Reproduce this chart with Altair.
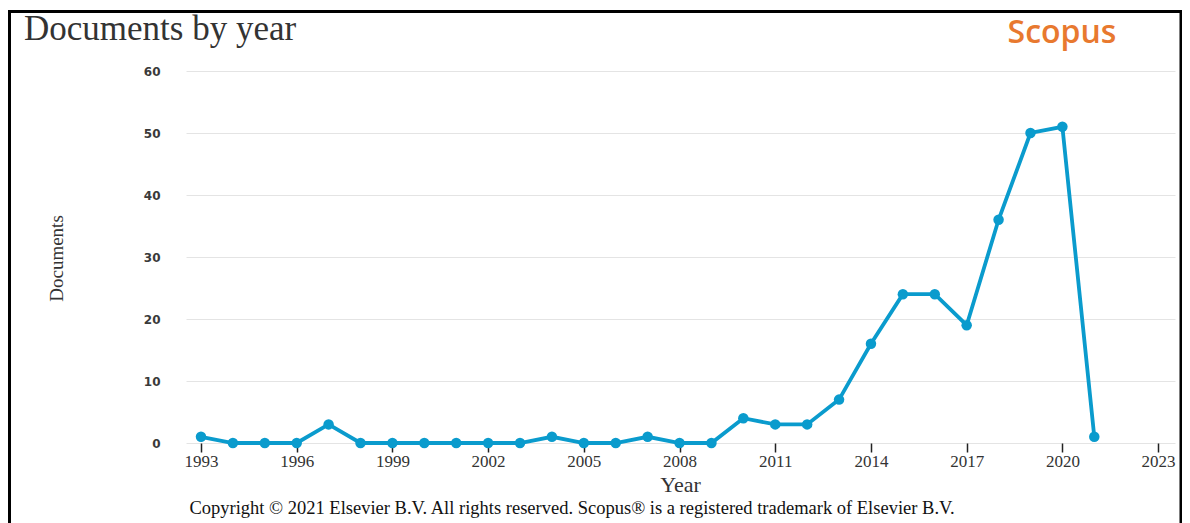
import altair as alt
import pandas as pd

years = list(range(1993, 2022))
documents = [1, 0, 0, 0, 3, 0, 0, 0, 0, 0, 0, 1, 0, 0, 1, 0, 0, 4, 3, 3, 7, 16, 24, 24, 19, 36, 50, 51, 1]
x_ticks = list(range(1993, 2024, 3))
y_ticks = [0, 10, 20, 30, 40, 50, 60]

title_text = "Documents by year"
brand_text = "Scopus"
copyright_text = "Copyright \u00a9 2021 Elsevier B.V. All rights reserved. Scopus\u00ae is a registered trademark of Elsevier B.V."

df = pd.DataFrame({"Year": years, "Documents": documents})

W, H = 989, 372
PAD = {"left": 178, "top": 63, "right": 7, "bottom": 80}

xscale = alt.Scale(domain=[1992.53, 2023.53], nice=False, zero=False)
yscale = alt.Scale(domain=[0, 60], nice=False)

xaxis = alt.Axis(
    values=x_ticks, format="d", grid=False, domain=False,
    ticks=True, tickColor="#222", tickWidth=1.5, tickSize=9,
    labelFont="Liberation Serif", labelFontSize=17, labelColor="#333",
    labelPadding=1,
    title="Year", titleFont="Liberation Serif", titleFontSize=22,
    titleFontWeight="normal", titleColor="#333",
    titleX=494, titleY=48, titleAlign="center", titleBaseline="alphabetic",
)
yaxis = alt.Axis(
    values=y_ticks, grid=True, gridColor="#e4e4e4", gridWidth=1,
    domain=False, ticks=False,
    labelFont="DejaVu Sans", labelFontSize=12, labelFontWeight="bold",
    labelColor="#3a3a3a", labelPadding=26, labelBaseline="middle",
    title="Documents", titleFont="Liberation Serif", titleFontSize=19,
    titleFontWeight="normal", titleColor="#333",
    titleAngle=270, titleX=-130, titleY=187, titleAlign="center",
    titleBaseline="middle",
)

base = alt.Chart(df)
line = base.mark_line(color="#0a9bcd", strokeWidth=3.8).encode(
    x=alt.X("Year:Q", scale=xscale, axis=xaxis),
    y=alt.Y("Documents:Q", scale=yscale, axis=yaxis),
)
points = base.mark_circle(color="#0a9bcd", size=110, opacity=1).encode(
    x=alt.X("Year:Q", scale=xscale),
    y=alt.Y("Documents:Q", scale=yscale),
)

ann = pd.DataFrame({"k": [0]})
frame = alt.Chart(ann).mark_rect(
    fill=None, fillOpacity=0, stroke="black", strokeWidth=3, clip=False
).encode(
    x=alt.value(-176.5), x2=alt.value(995), y=alt.value(-59.5), y2=alt.value(700)
)
title = alt.Chart(ann).mark_text(
    text=title_text, font="Liberation Serif", fontSize=35, color="#333",
    align="left", baseline="alphabetic"
).encode(x=alt.value(-162), y=alt.value(-31))
brand = alt.Chart(ann).mark_text(
    text=brand_text, font="Open Sans", fontSize=32, fontWeight=600, color="#e8792f",
    align="center", baseline="alphabetic"
).encode(x=alt.value(876), y=alt.value(-28))
copyr = alt.Chart(ann).mark_text(
    text=copyright_text, font="Liberation Serif", fontSize=18.5, color="#111",
    align="center", baseline="alphabetic"
).encode(x=alt.value(386), y=alt.value(443))

chart = alt.layer(frame, line, points, title, brand, copyr).properties(
    width=W, height=H,
    autosize=alt.AutoSizeParams(type="none"),
    padding=PAD,
).configure(background="white").configure_view(strokeWidth=0, stroke="transparent")

chart.save("out.html", embed_options={"renderer": "svg", "actions": False})
